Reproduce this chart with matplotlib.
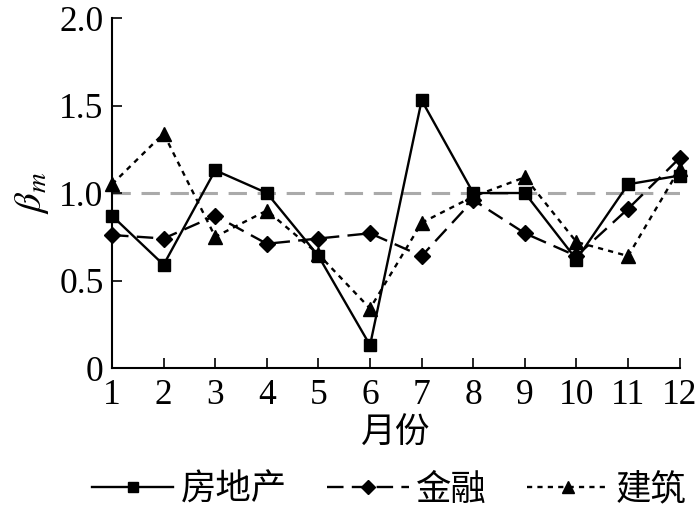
import numpy as np
import matplotlib
matplotlib.use("Agg")
import matplotlib.pyplot as plt

# --- DATA ---
months = [1, 2, 3, 4, 5, 6, 7, 8, 9, 10, 11, 12]
real_estate = [0.87, 0.59, 1.13, 1.00, 0.64, 0.13, 1.53, 1.00, 1.00, 0.62, 1.05, 1.10]
finance = [0.76, 0.74, 0.87, 0.71, 0.74, 0.77, 0.64, 0.96, 0.77, 0.64, 0.91, 1.20]
construction = [1.05, 1.34, 0.75, 0.90, 0.65, 0.34, 0.83, 0.98, 1.09, 0.72, 0.64, 1.14]
series_names = ['房地产', '金融', '建筑']
ref_level = 1.0
yticks = [0, 0.5, 1.0, 1.5, 2.0]
ytick_labels = ['0', '0.5', '1.0', '1.5', '2.0']

plt.rcParams['mathtext.fontset'] = 'stix'
num_font = 'Liberation Serif'
cjk_font = ['Noto Sans CJK SC', 'DejaVu Sans']

fig = plt.figure(figsize=(7, 5.2), dpi=100)
ax = fig.add_axes([0.16, 0.2923, 0.811, 0.673])

ax.axhline(ref_level, color='#aaaaaa', lw=2.2, dashes=(6, 3.5), zorder=1)

ax.plot(months, real_estate, color='black', lw=1.7, marker='s', ms=8.5,
        label=series_names[0], clip_on=False, zorder=3)
ax.plot(months, finance, color='black', lw=1.7, dashes=(7, 3.5), marker='D', ms=8.5,
        label=series_names[1], clip_on=False, zorder=3)
ax.plot(months, construction, color='black', lw=1.7, dashes=(2.2, 2.2), marker='^', ms=10,
        label=series_names[2], clip_on=False, zorder=3)

ax.set_xlim(1, 12)
ax.set_ylim(0, 2.0)
ax.set_xticks(months)
ax.set_xticklabels([str(m) for m in months], fontfamily=num_font, fontsize=25.5)
ax.set_yticks(yticks)
ax.set_yticklabels(ytick_labels, fontfamily=num_font, fontsize=25.5)
ax.tick_params(direction='in', length=7, width=1.2)
ax.tick_params(axis='x', pad=8)
ax.tick_params(axis='y', pad=6)

for s in ['top', 'right']:
    ax.spines[s].set_visible(False)
for s in ['left', 'bottom']:
    ax.spines[s].set_linewidth(1.5)

ax.set_ylabel(r'$\beta_m$', fontsize=28, labelpad=6)
ax.set_xlabel('月份', fontfamily=cjk_font, fontsize=25, labelpad=3)

fig.legend(loc='center', bbox_to_anchor=(0.556, 0.058), ncol=3, frameon=False,
           prop={'family': cjk_font, 'size': 25.5}, handlelength=2.3,
           handletextpad=0.2, columnspacing=1.15, markerscale=0.85,
           borderaxespad=0, borderpad=0)

fig.savefig('out.png', dpi=100)
